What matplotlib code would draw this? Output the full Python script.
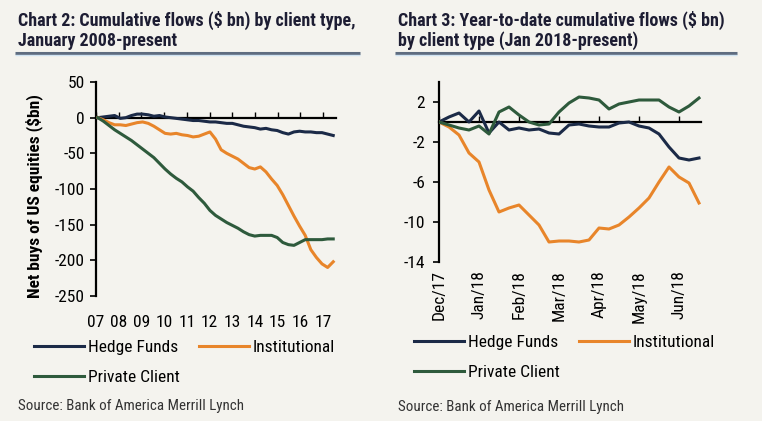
import numpy as np
import matplotlib
matplotlib.use("Agg")
import matplotlib.pyplot as plt
from matplotlib.lines import Line2D
from matplotlib import font_manager as fm

_names = {f.name for f in fm.fontManager.ttflist}
_cands = [n for n in ["Roboto Condensed", "Liberation Sans Narrow", "DejaVu Sans Condensed",
                      "Open Sans Condensed"] if n in _names]
NARROW = bool(_cands)
plt.rcParams['font.family'] = _cands + ['Liberation Sans', 'DejaVu Sans']
SC = 1.0 if NARROW else 0.86

# ---------------- Data: Chart 2 (cumulative flows since 2008, $bn) ----------------
years_labels = ["07", "08", "09", "10", "11", "12", "13", "14", "15", "16", "17"]
hedge_long = [0, 1, 2, 3, -1, 0, 3, 5, 5, 4, 2, 3, 1, 0, -1, -2, -3, -4, -4, -5, -6,
              -6, -7, -8, -8, -10, -12, -13, -14, -16, -15, -17, -18, -21, -23, -20,
              -19, -20, -20, -21, -21, -23, -25]
inst_long = [0, -3, -7, -10, -10, -11, -9, -7, -6, -8, -12, -17, -22, -23, -22, -24,
             -25, -27, -26, -23, -20, -30, -45, -50, -54, -58, -64, -70, -72, -69, -76,
             -86, -95, -108, -123, -138, -152, -165, -185, -196, -205, -210, -202]
priv_long = [0, -5, -11, -17, -22, -27, -32, -38, -44, -50, -56, -64, -72, -79, -85,
             -90, -97, -103, -112, -120, -130, -137, -142, -147, -151, -155, -160, -164,
             -166, -165, -165, -165, -168, -175, -178, -179, -175, -171, -171, -171,
             -171, -170, -170]

# ---------------- Data: Chart 3 (YTD cumulative flows, weekly, $bn) ----------------
month_labels = ["Dec/17", "Jan/18", "Feb/18", "Mar/18", "Apr/18", "May/18", "Jun/18"]
hedge_ytd = [0, 0.5, 0.9, 0.0, 1.1, -1.1, 0.0, -0.8, -0.6, -0.8, -0.7, -1.1, -1.2,
             -0.3, -0.2, -0.4, -0.5, -0.5, -0.1, 0.0, -0.4, -0.6, -1.2, -2.5, -3.6,
             -3.8, -3.6]
inst_ytd = [0, -0.5, -1.3, -3.1, -4.0, -6.8, -9.0, -8.6, -8.3, -9.3, -10.3, -12.0,
            -11.9, -11.9, -12.0, -11.8, -10.6, -10.7, -10.3, -9.5, -8.6, -7.6, -6.0,
            -4.5, -5.5, -6.1, -8.1]
priv_ytd = [0, -0.3, -0.6, -0.8, -0.4, -1.2, 1.0, 1.5, 0.7, 0.0, -0.3, -0.2, 1.0,
            1.9, 2.5, 2.4, 2.2, 1.3, 1.8, 2.0, 2.2, 2.2, 2.2, 1.5, 1.0, 1.6, 2.4]

series_names = ["Hedge Funds", "Institutional", "Private Client"]
colors = {"Hedge Funds": "#1b2a47", "Institutional": "#e8852a", "Private Client": "#2e5a3c"}

BG = "#f4f3ee"
TITLE_C = "#1d1d33"

fig = plt.figure(figsize=(7.62, 4.21), dpi=100, facecolor=BG)
W, H = 762, 421
TICK_FS = 12.5 * SC if NARROW else 11


def px_axes(left, top, right, bottom):
    return fig.add_axes([left / W, 1 - bottom / H, (right - left) / W, (bottom - top) / H])


def style_axes(ax, ylim, yticks, xticks, xlabels, label_kw, ypad):
    ax.set_facecolor(BG)
    ax.set_ylim(*ylim)
    ax.set_yticks(yticks)
    ax.set_yticklabels([f"{v:g}" for v in yticks])
    for s in ["top", "right"]:
        ax.spines[s].set_visible(False)
    ax.spines["left"].set_linewidth(1.6)
    ax.spines["bottom"].set_position(("data", 0))
    ax.spines["bottom"].set_linewidth(1.6)
    ax.set_xticks(xticks)
    ax.tick_params(axis="x", direction="in", length=4, width=1.0, labelbottom=False)
    ax.tick_params(axis="y", direction="out", length=4, width=1.2, labelsize=TICK_FS, pad=ypad)
    sec = ax.secondary_xaxis("bottom")
    for s in sec.spines.values():
        s.set_visible(False)
    sec.set_xticks(xticks)
    sec.set_xticklabels(xlabels, **label_kw)
    sec.tick_params(length=0, labelsize=TICK_FS)
    return sec


# ---------------- Left chart ----------------
axL = px_axes(96, 82, 335.5, 296)
xL = np.linspace(0.08, 10.45, len(hedge_long))
for name, vals in zip(series_names, [hedge_long, inst_long, priv_long]):
    axL.plot(xL, vals, color=colors[name], lw=2.2, zorder=3, label=name)
axL.set_xlim(0, 10.55)
secL = style_axes(axL, (-250, 50), [50, 0, -50, -100, -150, -200, -250],
                  list(range(len(years_labels))), years_labels, {}, 4)
secL.tick_params(pad=14)
axL.set_ylabel("Net buys of US equities ($bn)", fontsize=TICK_FS, fontweight="bold")
axL.yaxis.set_label_coords(-0.22, 0.465)

# ---------------- Right chart ----------------
axR = px_axes(439, 82, 701, 262)
xR = np.arange(len(hedge_ytd))
for name, vals in zip(series_names, [hedge_ytd, inst_ytd, priv_ytd]):
    axR.plot(xR, vals, color=colors[name], lw=2.2, zorder=3, label=name)
axR.set_xlim(0, 26.2)
secR = style_axes(axR, (-14, 4), [2, -2, -6, -10, -14],
                  list(range(0, 4 * len(month_labels), 4)), month_labels,
                  {"rotation": 90, "va": "top", "ha": "center"}, 6)
secR.tick_params(pad=6)

# ---------------- Titles, underline, legends, sources ----------------
TFS = 13 * SC if NARROW else 11.2
for x, l1, l2 in [(18, "Chart 2: Cumulative flows ($ bn) by client type,", "January 2008-present"),
                  (398, "Chart 3: Year-to-date cumulative flows ($ bn)", "by client type (Jan 2018-present)")]:
    fig.text(x / W, 1 - 26 / H, l1, fontsize=TFS, fontweight="bold", color=TITLE_C, va="baseline")
    fig.text(x / W, 1 - 46 / H, l2, fontsize=TFS, fontweight="bold", color=TITLE_C, va="baseline")
for x0, x1 in [(15, 360), (395, 737)]:
    fig.add_artist(Line2D([x0 / W, x1 / W], [1 - 53 / H, 1 - 53 / H],
                          color="#5e6c80", lw=2.2, solid_capstyle="butt"))
    fig.add_artist(Line2D([x0 / W, x1 / W], [1 - 55 / H, 1 - 55 / H],
                          color="#cfe3f2", lw=1.0, solid_capstyle="butt"))

LFS = 12.5 * SC if NARROW else 11
for ax, anchor in [(axL, (34 / W, 1 - 340 / H)), (axR, (414 / W, 1 - 335 / H))]:
    h, l = ax.get_legend_handles_labels()
    order = [0, 2, 1]
    fig.legend([h[i] for i in order], [l[i] for i in order], ncol=2, frameon=False,
               loc="upper left", bbox_to_anchor=anchor, fontsize=LFS,
               handlelength=2.9, handletextpad=0.2, columnspacing=1.1,
               labelspacing=0.85, borderpad=0, borderaxespad=0)

SFS = 10.8 * SC if NARROW else 9.5
fig.text(18 / W, 1 - 406 / H, "Source: Bank of America Merrill Lynch",
         fontsize=SFS, color="#333333", va="center")
fig.text(398 / W, 1 - 407 / H, "Source: Bank of America Merrill Lynch",
         fontsize=SFS, color="#333333", va="center")

fig.savefig("out.png", dpi=100, facecolor=BG)
